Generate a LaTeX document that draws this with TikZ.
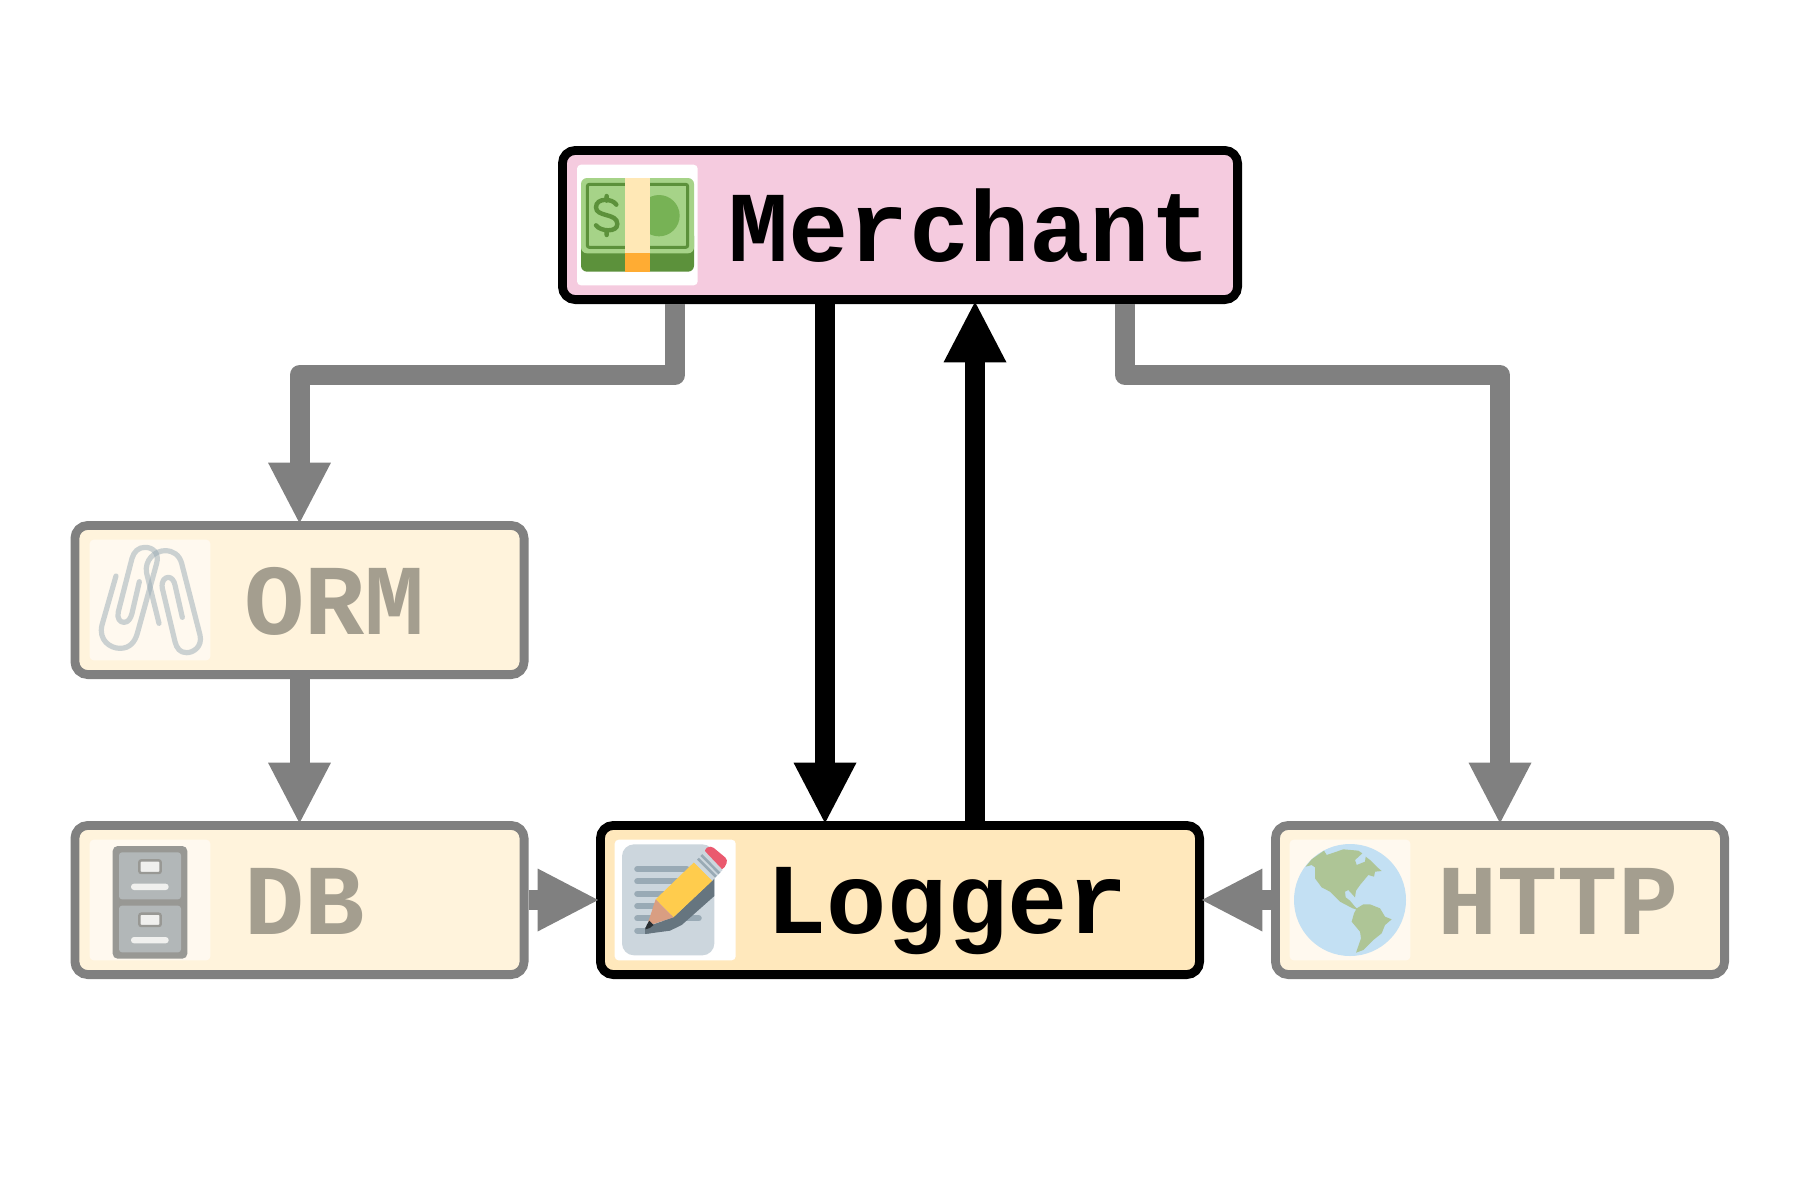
\documentclass[tikz,border=0pt]{standalone}
\usepackage{fontspec}
\setmonofont{Liberation Mono}
\usetikzlibrary{arrows.meta}
\definecolor{fadeedge}{HTML}{808080}
\definecolor{fadetext}{HTML}{A49E8F}
\definecolor{fadefill}{HTML}{FFF3DC}
\definecolor{logfill}{HTML}{FFE8BC}
\definecolor{merfill}{HTML}{F5CBDF}
\definecolor{fadewhite}{HTML}{FFF9EF}
\tikzset{
  box/.style={draw,line width=4.4pt,rounded corners=6.5pt,inner sep=0pt,outer sep=2.2pt},
  live/.style={box,draw=black},
  fade/.style={box,draw=fadeedge,fill=fadefill},
  lbl/.style={anchor=base west,inner sep=0pt,font=\fontsize{50.2pt}{50.2pt}\selectfont\ttfamily\bfseries},
  flow/.style={line width=10pt,line join=round,shorten >=-1.8pt,
    -{Triangle[length=31pt,width=29pt]}},
  grayflow/.style={flow,draw=fadeedge,color=fadeedge},
  blackflow/.style={flow,draw=black,color=black},
  iconbg/.style={rounded corners=2pt},
  zoomed/.style={x=0.16667pt,y=-0.16667pt},
}
\begin{document}
\begin{tikzpicture}[x=0.5pt,y=-0.5pt]
\useasboundingbox (0,0) rectangle (1800,1200);
% boxes
\node[live,fill=merfill,minimum width=337.6pt,minimum height=74.6pt] (merchant) at (900,225) {};
\node[fade,minimum width=224.6pt,minimum height=74.6pt] (orm) at (299.5,600) {};
\node[fade,minimum width=224.6pt,minimum height=74.6pt] (db) at (299.5,900) {};
\node[live,fill=logfill,minimum width=299.6pt,minimum height=74.6pt] (logger) at (900,900) {};
\node[fade,minimum width=224.6pt,minimum height=74.6pt] (http) at (1500,900) {};
\coordinate (rail) at (0,375);
% labels
\node[lbl] (merchanttext) at (728,261) {Merchant};
\node[lbl] (loggertext) at (766,933) {Logger};
\node[lbl,text=fadetext] (ormtext) at (244,634) {ORM};
\node[lbl,text=fadetext] (dbtext) at (244,934) {DB};
\node[lbl,text=fadetext] (httptext) at (1437,934) {HTTP};
% connectors
\draw[grayflow] ([xshift=-112.5pt]merchant.south) |- (orm.north |- rail) -- (orm.north);
\draw[grayflow] ([xshift=112.5pt]merchant.south) |- (http.north |- rail) -- (http.north);
\draw[grayflow] (orm.south) -- (db.north);
\draw[grayflow] (db.east) -- (logger.west);
\draw[grayflow] (http.west) -- (logger.east);
\draw[blackflow] ([xshift=-37.5pt]merchant.south) -- ([xshift=-37.5pt]logger.north);
\draw[blackflow] ([xshift=37.5pt]logger.north) -- ([xshift=37.5pt]merchant.south);
% money icon
\begin{scope}[shift={(550,130)},zoomed]
\fill[white,iconbg] (81,104) rectangle (443,466);
\fill[rounded corners=3pt,color={rgb,255:red,92;green,145;blue,59}] (93,300) rectangle (432,425);
\fill[rounded corners=3pt,color={rgb,255:red,166;green,211;blue,136}] (93,144) rectangle (432,370);
\fill[color={rgb,255:red,119;green,178;blue,85}] (327,257) circle[radius=62];
\draw[line width=1.5pt,rounded corners=1pt,color={rgb,255:red,92;green,145;blue,59}] (112,163) rectangle (413,352);
\draw[line width=2.2pt,line cap=round,color={rgb,255:red,92;green,145;blue,59}]
  (199,224) .. controls (188,205) and (138,202) .. (138,232) .. controls (138,262) and (202,248) .. (202,282) .. controls (202,308) and (152,305) .. (138,286)
  (170,198) -- (170,212) (170,300) -- (170,315);
\fill[color={rgb,255:red,255;green,232;blue,182}] (225,144) rectangle (300,370);
\fill[color={rgb,255:red,255;green,172;blue,51}] (225,369) rectangle (300,425);
\end{scope}
% paperclip icon
\begin{scope}[shift={(60,510)},zoomed]
\fill[fadewhite,iconbg] (89,89) rectangle (451,451);
\begin{scope}[line width=2.6pt,line cap=round,line join=round,opacity=0.5,color={rgb,255:red,153;green,170;blue,181}]
\draw (168,198) -- (126,345) .. controls (115,390) and (150,415) .. (180,415) .. controls (210,415) and (225,395) .. (232,370) -- (290,160) .. controls (298,130) and (280,112) .. (255,112) .. controls (235,112) and (222,125) .. (216,145) -- (175,305) .. controls (170,325) and (180,337) .. (192,337) .. controls (205,337) and (212,325) .. (216,310) -- (238,215);
\draw (297,340) -- (260,190) .. controls (252,150) and (285,122) .. (315,122) .. controls (340,122) and (358,135) .. (365,160) -- (420,375) .. controls (428,410) and (400,428) .. (380,428) .. controls (360,428) and (350,415) .. (345,395) -- (307,235) .. controls (303,212) and (315,202) .. (325,202) .. controls (335,202) and (342,212) .. (345,225) -- (367,322);
\end{scope}
\end{scope}
% cabinet icon
\begin{scope}[shift={(60,810)},zoomed]
\fill[fadewhite,iconbg] (89,89) rectangle (451,451);
\fill[rounded corners=2.5pt,color={rgb,255:red,152;green,152;blue,148}] (158,108) rectangle (382,446);
\fill[rounded corners=1.5pt,color={rgb,255:red,178;green,183;blue,184}] (177,127) rectangle (363,268);
\fill[rounded corners=1.5pt,color={rgb,255:red,178;green,183;blue,184}] (177,287) rectangle (363,427);
\draw[line width=1.2pt,rounded corners=1pt,color={rgb,255:red,152;green,152;blue,148},fill={rgb,255:red,240;green,240;blue,238}] (238,151) rectangle (302,189);
\draw[line width=1.2pt,rounded corners=1pt,color={rgb,255:red,152;green,152;blue,148},fill={rgb,255:red,240;green,240;blue,238}] (238,311) rectangle (302,348);
\fill[rounded corners=1.5pt,color={rgb,255:red,240;green,240;blue,238}] (213,221) rectangle (326,240);
\fill[rounded corners=1.5pt,color={rgb,255:red,240;green,240;blue,238}] (213,381) rectangle (326,400);
\end{scope}
% pencil icon
\begin{scope}[shift={(590,810)},zoomed]
\fill[white,iconbg] (74,89) rectangle (437,451);
\fill[rounded corners=6pt,color={rgb,255:red,204;green,214;blue,221}] (96,103) rectangle (373,436);
\begin{scope}[line width=3.1pt,line cap=round,color={rgb,255:red,153;green,170;blue,181}]
\draw (142,177) -- (290,177);
\draw (142,214) -- (260,214);
\draw (142,251) -- (225,251);
\draw (142,288) -- (195,288);
\draw (142,325) -- (326,325);
\draw (142,362) -- (175,362);
\end{scope}
\fill[color={rgb,255:red,102;green,117;blue,127}] (165,372) -- (240,362) -- (275,345) -- (373,258) -- (373,205) -- (250,322) -- (165,352) -- cycle;
\fill[color={rgb,255:red,255;green,204;blue,77}] (197,268) -- (312,157) -- (367,212) -- (250,322) -- cycle;
\fill[color={rgb,255:red,217;green,158;blue,130}] (197,268) -- (250,322) -- (190,342) -- (175,335) -- cycle;
\fill[color={rgb,255:red,41;green,47;blue,51}] (178,332) -- (191,345) .. controls (185,352) and (175,357) .. (166,358) .. controls (167,350) and (172,340) .. (178,332) -- cycle;
\fill[rounded corners=2pt,color={rgb,255:red,234;green,89;blue,110}] (340,120) -- (362,106) -- (415,150) -- (398,182) -- (375,170) -- cycle;
\fill[color={rgb,255:red,204;green,214;blue,221}] (312,157) -- (343,122) -- (398,180) -- (367,212) -- cycle;
\draw[line width=1.3pt,color={rgb,255:red,153;green,170;blue,181}] (324,146) -- (378,200) (334,135) -- (388,190);
\end{scope}
% globe icon
\begin{scope}[shift={(1200,810)},zoomed]
\fill[fadewhite,iconbg] (269,89) rectangle (631,451);
\fill[color={rgb,255:red,195;green,224;blue,243}] (450,270) circle[radius=168];
\fill[color={rgb,255:red,174;green,197;blue,150}]
 (317,170) -- (335,148) -- (372,122) -- (380,135) -- (430,118) -- (475,122) -- (487,130) -- (465,150) -- (470,165) -- (495,155) -- (497,140) -- (510,150) -- (530,170) -- (545,183) -- (525,185) -- (522,200) -- (505,195) -- (480,225) -- (468,242) -- (465,262) -- (445,240) -- (435,245) -- (437,262) -- (450,272) -- (465,290) -- (475,300) -- (458,295) -- (420,275) -- (390,245) -- (365,232) -- (345,205) -- (345,172) -- (335,165) -- cycle
 (470,295) -- (490,283) -- (510,283) -- (540,295) -- (555,320) -- (575,328) -- (555,345) -- (545,370) -- (520,390) -- (490,420) -- (468,428) -- (483,385) -- (480,365) -- (455,335) -- (462,310) -- cycle;
\end{scope}
\end{tikzpicture}
\end{document}
